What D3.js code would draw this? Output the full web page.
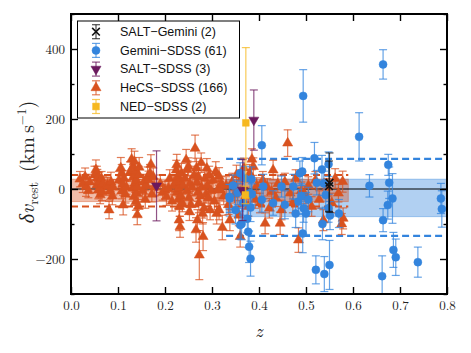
<!DOCTYPE html>
<html>
<head>
<meta charset="utf-8">
<script src="https://cdn.jsdelivr.net/npm/d3@7"></script>
<style>
  html, body { margin: 0; padding: 0; background: #fff; }
  svg { display: block; }
</style>
</head>
<body>
<svg id="chart" width="471" height="353"></svg>
<script>
// ---- data: [z, dv, err] ----
const hecsSdss = [
  [0.019, 28, 22], [0.025, 15, 25], [0.032, 7, 28], [0.037, -5, 20], [0.030, 35, 25], [0.040, 20, 22],
  [0.050, 40, 25], [0.053, 55, 28], [0.055, 45, 20], [0.056, 31, 25], [0.055, 11, 22], [0.058, -3, 25],
  [0.060, 20, 28], [0.062, -17, 25], [0.063, 5, 22], [0.065, 30, 20], [0.066, -8, 25], [0.068, 15, 22],
  [0.077, 12, 22], [0.079, 7, 25], [0.081, -60, 25], [0.083, -6, 25], [0.085, 20, 28], [0.088, -20, 25], [0.090, 5, 22],
  [0.102, 25, 25], [0.106, 60, 30], [0.108, 45, 25], [0.108, -6, 22], [0.110, 13, 25], [0.111, -46, 28],
  [0.113, 30, 22], [0.116, -15, 25], [0.118, 5, 20],
  [0.126, 50, 28], [0.129, 85, 30], [0.131, 2, 25], [0.132, 64, 25], [0.133, 35, 25], [0.134, -22, 25],
  [0.135, 78, 30], [0.136, 16, 25], [0.137, 50, 25], [0.138, -36, 25], [0.139, 25, 22], [0.140, -12, 25],
  [0.141, -74, 28], [0.142, 5, 22], [0.143, -50, 28], [0.144, 40, 25], [0.145, 62, 28],
  [0.152, -5, 25], [0.155, 20, 22], [0.158, -30, 25], [0.160, 10, 25], [0.163, 35, 28], [0.165, 26, 25],
  [0.168, 45, 25], [0.170, 70, 28], [0.172, -15, 22], [0.175, 35, 25], [0.178, 5, 25],
  [0.190, 15, 25], [0.195, -10, 22], [0.200, -3, 25], [0.203, -22, 25], [0.207, 2, 22], [0.210, 30, 25],
  [0.215, -35, 28], [0.218, 10, 25],
  [0.222, 16, 25], [0.224, 54, 28], [0.225, 69, 30], [0.226, -10, 25], [0.227, 35, 25], [0.228, -30, 25],
  [0.229, 2, 22], [0.230, -89, 30], [0.231, -50, 28], [0.232, -108, 30], [0.233, 20, 25], [0.234, -20, 25],
  [0.235, 45, 28], [0.237, -40, 25], [0.238, 10, 22],
  [0.242, 30, 25], [0.245, 83, 30], [0.247, -5, 25], [0.248, 55, 25], [0.250, 64, 25], [0.251, -25, 25],
  [0.252, -65, 25], [0.253, 15, 22], [0.255, -45, 28], [0.258, 5, 25],
  [0.262, 40, 25], [0.264, 116, 38], [0.266, -117, 35], [0.267, 60, 28], [0.268, 20, 25], [0.269, -89, 30],
  [0.270, -10, 25], [0.271, 35, 25], [0.272, -40, 28], [0.273, -189, 70], [0.275, -20, 25], [0.277, 75, 28],
  [0.278, 5, 22], [0.280, -70, 30], [0.281, -136, 40], [0.283, -55, 28], [0.285, 30, 25], [0.287, -15, 25],
  [0.289, 59, 28], [0.290, 10, 25], [0.292, -25, 25], [0.294, 40, 25], [0.296, -60, 28], [0.298, -5, 22],
  [0.302, 25, 25], [0.305, -35, 25], [0.308, 50, 28], [0.310, -70, 30], [0.313, 0, 25], [0.315, 36, 25],
  [0.315, -60, 28], [0.317, -3, 25], [0.320, 15, 22], [0.322, -110, 35], [0.325, -20, 25], [0.330, 10, 25],
  [0.335, -45, 28], [0.338, -89, 30],
  [0.343, 20, 25], [0.348, -15, 25], [0.352, 40, 28], [0.354, -8, 25], [0.357, -75, 30], [0.360, -136, 30],
  [0.362, 30, 25], [0.368, 60, 28], [0.372, -20, 25], [0.377, -50, 28], [0.380, 45, 25], [0.385, 85, 30],
  [0.388, 64, 25], [0.392, -30, 25], [0.395, 10, 22],
  [0.402, -40, 28], [0.408, 25, 25], [0.413, -98, 30], [0.418, 5, 25], [0.422, -55, 28], [0.427, -8, 25],
  [0.430, 54, 28], [0.436, -25, 25], [0.440, 15, 25], [0.445, -98, 32], [0.448, -60, 28], [0.455, 20, 25],
  [0.461, 131, 38], [0.466, -12, 25], [0.472, -40, 28], [0.478, 30, 25], [0.484, -146, 35], [0.490, -5, 25],
  [0.498, -17, 25],
  [0.505, 10, 25], [0.512, -50, 28], [0.520, 25, 25], [0.528, -30, 25], [0.537, -89, 30], [0.545, 5, 25],
  [0.555, -40, 28], [0.562, 30, 28], [0.569, -12, 25], [0.578, 21, 30], [0.579, -84, 30], [0.576, -100, 30]
];

const geminiSdss = [
  [0.337, -22, 35], [0.338, -27, 40], [0.345, 10, 30], [0.350, -60, 40], [0.355, -10, 35], [0.360, 45, 30],
  [0.360, -103, 40], [0.363, -100, 45], [0.366, -40, 35], [0.370, 30, 35], [0.375, -85, 40], [0.377, -122, 45],
  [0.379, -165, 45], [0.381, -12, 35], [0.382, -53, 40], [0.382, -199, 50], [0.384, 28, 35], [0.385, -15, 30],
  [0.406, 125, 56], [0.406, -31, 35], [0.409, 7, 35], [0.430, -40, 35], [0.448, 7, 30], [0.455, -45, 40],
  [0.473, 7, 35], [0.478, -70, 40], [0.484, -36, 35], [0.487, 45, 35], [0.490, -20, 35], [0.492, 50, 40],
  [0.493, -127, 55], [0.494, 266, 75], [0.495, -55, 40], [0.500, -70, 60], [0.505, -30, 35],
  [0.518, 88, 45], [0.521, -231, 40], [0.523, 18, 35], [0.534, 56, 40], [0.535, -100, 45], [0.538, 16, 35],
  [0.539, -243, 50], [0.542, -17, 35], [0.548, 71, 35], [0.548, -55, 40], [0.550, -217, 70], [0.551, -76, 40],
  [0.570, -70, 40], [0.613, 149, 69], [0.635, 9, 32], [0.662, -249, 58], [0.664, 356, 42], [0.664, -89, 33],
  [0.674, -46, 40], [0.675, 69, 30], [0.677, 18, 45], [0.684, -27, 71], [0.686, -174, 50], [0.691, -195, 52],
  [0.738, -209, 43], [0.787, -27, 43], [0.789, -57, 52]
];

const saltSdss   = [[0.182, 9, 100], [0.365, -3, 87], [0.389, 197, 86]];
const nedSdss    = [[0.372, 189, 215], [0.371, -17, 25]];
const saltGemini = [[0.550, 18, 85], [0.549, 8, 72]];

// mean offsets and scatter bands: [zFrom, zTo], fill [lo, hi], dashed [lo, hi]
const hecsRange = [0, 0.59],   hecsFill = [-36, 28],   hecsDash = [-50, 40];
const gemRange  = [0.33, 0.8], gemFill  = [-79, 28],   gemDash  = [-134, 86];

const xTicks = [0, 0.1, 0.2, 0.3, 0.4, 0.5, 0.6, 0.7, 0.8];
const yTicks = [-200, 0, 200, 400];
const yMinor = [-300, -100, 100, 300, 500];

const legendItems = [
  { label: 'SALT\u2212Gemini (2)',  sym: 'x',    color: '#111' },
  { label: 'Gemini\u2212SDSS (61)', sym: 'circ', color: '#3384dd' },
  { label: 'SALT\u2212SDSS (3)',    sym: 'tdn',  color: '#6b1a5e' },
  { label: 'HeCS\u2212SDSS (166)',  sym: 'tup',  color: '#d8521f' },
  { label: 'NED\u2212SDSS (2)',     sym: 'sq',   color: '#f6b81f' }
];

const SERIF = '"Latin Modern Roman", "CMU Serif", "Liberation Serif", "DejaVu Serif", serif';

// ---- drawing ----
const svg = d3.select('#chart');
const x = d3.scaleLinear().domain([0, 0.8]).range([71, 447]);
const y = d3.scaleLinear().domain([-300, 500]).range([294, 14]);

svg.append('clipPath').attr('id', 'plotclip')
  .append('rect').attr('x', 71).attr('y', 14).attr('width', 376).attr('height', 280);
const plot = svg.append('g').attr('clip-path', 'url(#plotclip)');

function band(range, fill, dash, color) {
  plot.append('rect')
    .attr('x', x(range[0])).attr('width', x(range[1]) - x(range[0]))
    .attr('y', y(fill[1])).attr('height', y(fill[0]) - y(fill[1]))
    .attr('fill', color).attr('fill-opacity', 0.38)
    .attr('stroke', color).attr('stroke-opacity', 0.4).attr('stroke-width', 1);
  dash.forEach(v => plot.append('line')
    .attr('x1', x(range[0])).attr('x2', x(range[1]))
    .attr('y1', y(v)).attr('y2', y(v))
    .attr('stroke', color).attr('stroke-width', 2.2).attr('stroke-dasharray', '7,4'));
}
band(gemRange, gemFill, gemDash, '#3384dd');
band(hecsRange, hecsFill, hecsDash, '#d8521f');

plot.append('line').attr('x1', x(0)).attr('x2', x(0.8)).attr('y1', y(0)).attr('y2', y(0))
  .attr('stroke', '#000').attr('stroke-width', 1.1);

const sym = {
  circ: d3.symbol().type(d3.symbolCircle).size(50),
  tup:  d3.symbol().type(d3.symbolTriangle).size(44),
  sq:   d3.symbol().type(d3.symbolSquare).size(46),
  x:    d3.symbol().type(d3.symbolX).size(40),
  tdn:  d3.symbol().type(d3.symbolTriangle).size(44)
};

function errbar(g, cx, cy0, cy1, color) {
  g.append('line').attr('x1', cx).attr('x2', cx).attr('y1', cy0).attr('y2', cy1)
    .attr('stroke', color).attr('stroke-width', 1.2).attr('stroke-opacity', 0.75);
  [cy0, cy1].forEach(c => g.append('line').attr('x1', cx - 4).attr('x2', cx + 4)
    .attr('y1', c).attr('y2', c)
    .attr('stroke', color).attr('stroke-width', 1.2).attr('stroke-opacity', 0.75));
}

function series(data, s, color) {
  const g = plot.append('g');
  data.forEach(([z, v, e]) => errbar(g, x(z), y(v + e), y(v - e), color));
  g.selectAll('path.m').data(data).join('path').attr('class', 'm')
    .attr('d', sym[s])
    .attr('transform', d => `translate(${x(d[0])},${y(d[1])})` + (s === 'tdn' ? ' rotate(180)' : ''))
    .attr('fill', s === 'x' ? 'none' : color)
    .attr('stroke', color).attr('stroke-width', s === 'x' ? 1.6 : 0.5);
}
series(hecsSdss, 'tup', '#d8521f');
series(geminiSdss, 'circ', '#3384dd');
series(saltSdss, 'tdn', '#6b1a5e');
series(nedSdss, 'sq', '#f6b81f');
series(saltGemini, 'x', '#111');

// axes, ticks inward on all four sides
svg.append('g').attr('transform', 'translate(0,294)')
  .call(d3.axisBottom(x).tickValues(xTicks).tickFormat(d3.format('.1f')).tickSize(-7).tickPadding(7));
svg.append('g').attr('transform', 'translate(0,14)')
  .call(d3.axisTop(x).tickValues(xTicks).tickFormat('').tickSize(-7));
svg.append('g').attr('transform', 'translate(71,0)')
  .call(d3.axisLeft(y).tickValues(yTicks).tickFormat(d3.format('')).tickSize(-7).tickPadding(6));
svg.append('g').attr('transform', 'translate(71,0)')
  .call(d3.axisLeft(y).tickValues(yMinor).tickFormat('').tickSize(-3.5));
svg.append('g').attr('transform', 'translate(447,0)')
  .call(d3.axisRight(y).tickValues(yTicks).tickFormat('').tickSize(-7));
svg.append('g').attr('transform', 'translate(447,0)')
  .call(d3.axisRight(y).tickValues(yMinor).tickFormat('').tickSize(-3.5));
svg.selectAll('.domain').remove();
svg.selectAll('.tick line').attr('stroke', '#000').attr('stroke-width', 1.4);
svg.selectAll('.tick text').attr('font-family', SERIF).attr('font-size', 13).attr('fill', '#222');

svg.append('rect').attr('x', 71).attr('y', 14).attr('width', 376).attr('height', 280)
  .attr('fill', 'none').attr('stroke', '#000').attr('stroke-width', 2);

// axis titles
svg.append('text').attr('x', 259).attr('y', 337).attr('text-anchor', 'middle')
  .attr('font-family', SERIF).attr('font-style', 'italic')
  .attr('font-size', 18).attr('fill', '#222').text('z');

const yl = svg.append('text').attr('transform', 'translate(34,162) rotate(-90)')
  .attr('text-anchor', 'middle').attr('font-family', SERIF)
  .attr('font-size', 20).attr('fill', '#222');
yl.append('tspan').attr('font-style', 'italic').text('\u03b4v');
yl.append('tspan').attr('font-size', 14).attr('dy', 4).text('rest');
yl.append('tspan').attr('dy', -4).text('\u2002(km\u2009s');
yl.append('tspan').attr('font-size', 13).attr('dy', -8).text('\u22121');
yl.append('tspan').attr('dy', 8).text(')');

// legend
const lg = svg.append('g');
lg.append('rect').attr('x', 77.5).attr('y', 21).attr('width', 162).attr('height', 97)
  .attr('fill', '#fff').attr('stroke', '#000').attr('stroke-width', 1);
legendItems.forEach((d, i) => {
  const cy = 31.7 + i * 18.7;
  errbar(lg, 96, cy - 7, cy + 7, d.color);
  lg.append('path').attr('d', sym[d.sym])
    .attr('transform', `translate(96,${cy})` + (d.sym === 'tdn' ? ' rotate(180)' : ''))
    .attr('fill', d.sym === 'x' ? 'none' : d.color)
    .attr('stroke', d.color).attr('stroke-width', d.sym === 'x' ? 1.6 : 0.5);
  lg.append('text').attr('x', 120).attr('y', cy).attr('dy', '0.35em')
    .attr('font-family', 'Liberation Sans, Arial, sans-serif').attr('font-size', 12.5)
    .attr('fill', '#111').text(d.label);
});
</script>
</body>
</html>
